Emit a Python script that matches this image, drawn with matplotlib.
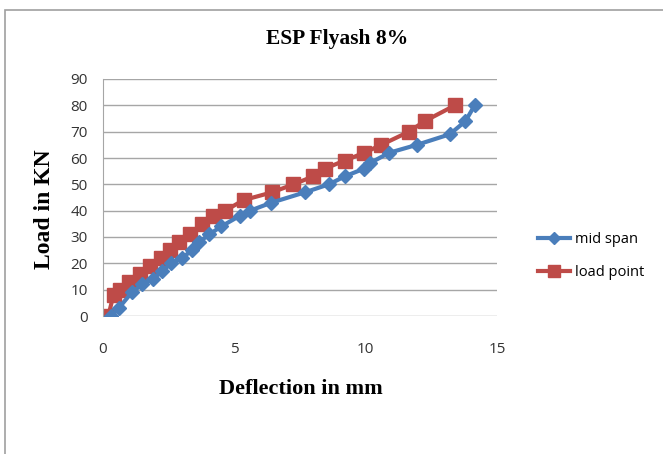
import matplotlib.pyplot as plt
from matplotlib.patches import Rectangle

# deflection (mm) and load (kN)
mid_x = [0.3, 0.6, 1.1, 1.5, 1.9, 2.25, 2.6, 3.0, 3.4, 3.65, 4.05, 4.5, 5.2, 5.6,
         6.4, 7.7, 8.6, 9.2, 9.95, 10.15, 10.9, 11.95, 13.2, 13.8, 14.15]
mid_y = [0, 3, 9, 12, 14, 17, 20, 22, 25, 28, 31, 34, 38, 40,
         43, 47, 50, 53, 56, 58, 62, 65, 69, 74, 80]
load_x = [0.2, 0.4, 0.65, 1.0, 1.4, 1.8, 2.2, 2.55, 2.9, 3.3, 3.75, 4.2, 4.65, 5.35,
          6.45, 7.25, 8.0, 8.45, 9.2, 9.95, 10.6, 11.65, 12.25, 13.4]
load_y = [0, 8, 10, 13, 16, 19, 22, 25, 28, 31, 35, 38, 40, 44,
          47, 50, 53, 56, 59, 62, 65, 70, 74, 80]

W, H = 663, 454
fig = plt.figure(figsize=(W / 100, H / 100), dpi=100)
fig.patches.append(Rectangle((5 / W, -0.1), 1.2, 1 - 10 / H + 0.1, transform=fig.transFigure,
                             fill=False, edgecolor='#a0a0a0', linewidth=1.2))

ax = fig.add_axes([103 / W, 1 - 316 / H, (497 - 103) / W, (316 - 79) / H])
ax.plot(mid_x, mid_y, color='#4a7ebb', linewidth=3, marker='D', markersize=7.5,
        label='mid span', zorder=3)
ax.plot(load_x, load_y, color='#be4b48', linewidth=3, marker='s', markersize=10,
        label='load point', zorder=2)

ax.set_xlim(0, 15)
ax.set_ylim(0, 90)
ax.set_xticks([0, 5, 10, 15])
ax.set_yticks(range(0, 91, 10))
ax.grid(axis='y', color='#a6a6a6', linewidth=1)
ax.set_axisbelow(True)
for s in ['top', 'right', 'bottom']:
    ax.spines[s].set_visible(False)
ax.spines['left'].set_color('#a6a6a6')
ax.tick_params(length=0, labelsize=11, labelcolor='#333333')
ax.tick_params(axis='y', pad=11)
ax.tick_params(axis='x', pad=19)
for lab in ax.get_xticklabels() + ax.get_yticklabels():
    lab.set_fontfamily('Open Sans')

serif = {'family': 'Liberation Serif', 'weight': 'bold'}
fig.text(337 / W, 1 - 39 / H, 'ESP Flyash 8%', ha='center', va='center', size=15.5, **serif)
fig.text(301 / W, 1 - 389 / H, 'Deflection in mm', ha='center', va='center', size=16, **serif)
fig.text(45 / W, 1 - 209 / H, 'Load in KN', ha='center', va='center', rotation=90,
         size=17, **serif)

ax.legend(loc='center left', bbox_to_anchor=(525 / W, 1 - 256 / H), bbox_transform=fig.transFigure,
          frameon=False, prop={'family': 'Open Sans', 'size': 10.5}, handlelength=2.2,
          labelspacing=1.2, handletextpad=0.3, markerscale=0.8)

fig.savefig('out.png', dpi=100)
